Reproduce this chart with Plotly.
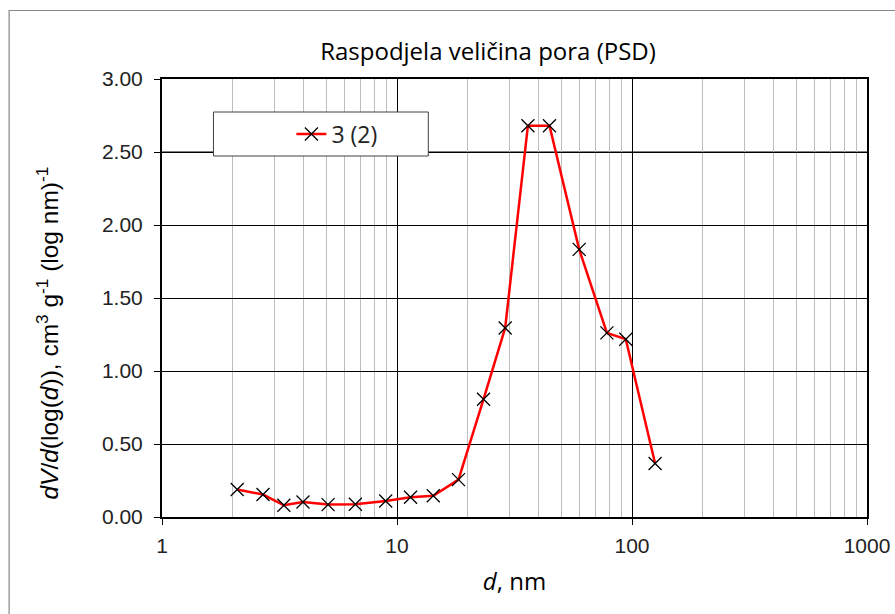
import plotly.graph_objects as go

# Data
pore_diameter_nm = [2.09, 2.69, 3.30, 3.98, 5.09, 6.65, 8.95, 11.42, 14.27, 18.27,
                    23.35, 28.86, 36.06, 44.55, 59.6, 78.2, 94.1, 125.4]
dv_dlogd = [0.188, 0.154, 0.080, 0.103, 0.085, 0.087, 0.110, 0.135, 0.146, 0.256,
            0.807, 1.295, 2.680, 2.680, 1.833, 1.261, 1.218, 0.366]
series_name = "3 (2)"
chart_title = "Raspodjela veličina pora (PSD)"
x_title = "<i>d</i>, nm"
y_title = "<i>dV</i>/<i>d</i>(log(<i>d</i>)), cm<sup>3</sup> g<sup>-1</sup> (log nm)<sup>-1</sup>"
y_tickvals = [0.0, 0.5, 1.0, 1.5, 2.0, 2.5, 3.0]
x_tickvals = [1, 10, 100, 1000]

W, H = 895, 614
L, R, T, B = 161.5, 867, 79, 517

fig = go.Figure()
fig.add_trace(go.Scatter(
    x=pore_diameter_nm, y=dv_dlogd, name=series_name, mode="lines+markers",
    line=dict(color="#FF0000", width=2.5),
    marker=dict(symbol="x-thin", size=13, color="black",
                line=dict(color="black", width=1.3)),
    showlegend=True,
))

def px_x(p):
    return (p - L) / (R - L)

def px_y(p):
    return (B - p) / (B - T)

fig.update_layout(
    width=W, height=H,
    margin=dict(l=L, r=W - R, t=T, b=H - B, pad=0, autoexpand=False),
    paper_bgcolor="white", plot_bgcolor="white",
    title=dict(text=chart_title, x=488 / W, xref="container", xanchor="center",
               y=1 - 52 / H, yref="container", yanchor="middle",
               font=dict(family="Open Sans", size=24, color="black")),
    showlegend=True,
    legend=dict(x=px_x(291), y=px_y(134), xanchor="left", yanchor="middle",
                bgcolor="rgba(0,0,0,0)", borderwidth=0,
                font=dict(family="Open Sans", size=23, color="#222222")),
    shapes=[
        dict(type="line", xref="paper", yref="y", x0=0, x1=1,
             y0=y_tickvals[5], y1=y_tickvals[5],
             line=dict(color="#808080", width=2), layer="between"),
        dict(type="rect", xref="paper", yref="paper",
             x0=px_x(213), x1=px_x(428), y0=px_y(156), y1=px_y(112),
             fillcolor="white", line=dict(color="#404040", width=1), layer="above"),
        dict(type="rect", xref="paper", yref="paper",
             x0=px_x(8.5), x1=px_x(W + 40), y0=px_y(H + 40), y1=px_y(10.5),
             fillcolor="rgba(0,0,0,0)", line=dict(color="#888888", width=1.2), layer="below"),
    ],
    annotations=[
        dict(text=y_title, xref="paper", yref="paper", x=px_x(46), y=px_y(333),
             xanchor="center", yanchor="middle", textangle=-90, showarrow=False,
             font=dict(family="Liberation Sans", size=24.5, color="black")),
    ],
)

fig.update_xaxes(
    type="log", range=[0, 3], automargin=False,
    tickvals=x_tickvals, ticktext=[str(v) for v in x_tickvals],
    ticks="outside", ticklen=6, tickcolor="black", tickwidth=1,
    ticklabelstandoff=3,
    showline=True, linecolor="black", linewidth=2, mirror=True,
    showgrid=True, gridcolor="black", gridwidth=1,
    minor=dict(dtick="D1", showgrid=True, gridcolor="#BEBEBE", gridwidth=1, ticks=""),
    tickfont=dict(family="Liberation Sans", size=21, color="#222222"),
    title=dict(text=x_title, standoff=17,
               font=dict(family="Open Sans", size=24, color="black")),
    zeroline=False,
)
fig.update_yaxes(
    range=[0, 3], tickvals=y_tickvals, tickformat=".2f", automargin=False,
    ticks="outside", ticklen=6, tickcolor="black", tickwidth=1,
    ticklabelstandoff=7,
    showline=True, linecolor="black", linewidth=2, mirror=True,
    showgrid=True, gridcolor="black", gridwidth=1,
    tickfont=dict(family="Liberation Sans", size=21, color="#222222"),
    zeroline=False,
)

fig.write_html(
    "out.html",
    config={"displayModeBar": False},
    post_script="document.body.style.margin='0';document.body.style.overflow='hidden';",
)
